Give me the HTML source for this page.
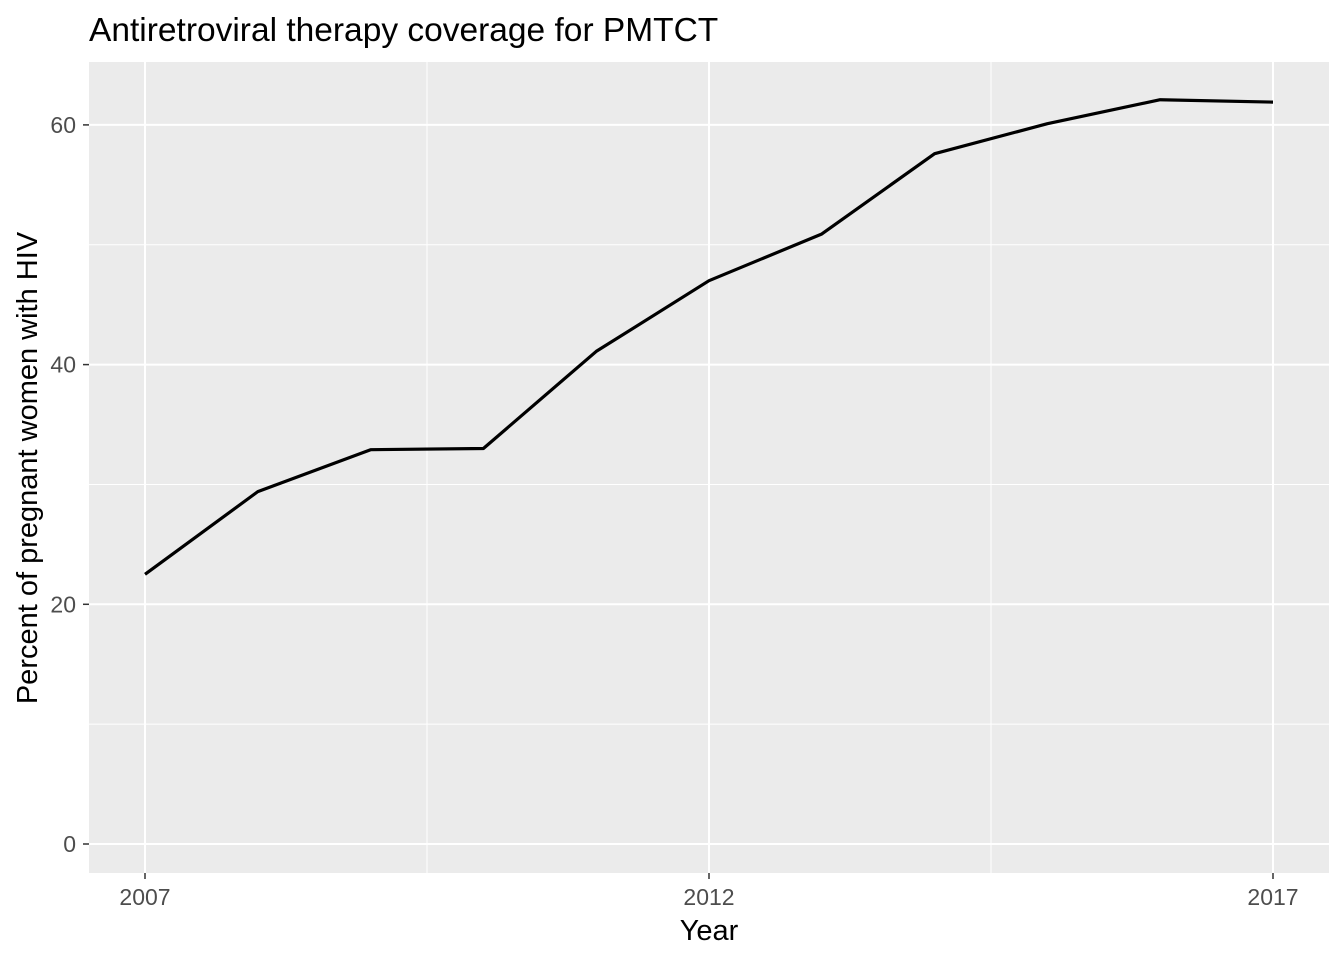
<!DOCTYPE html>
<html><head><meta charset="utf-8"><style>
html,body{margin:0;padding:0;background:#fff;}
svg{display:block;font-family:"Liberation Sans",Arial,sans-serif;}
</style></head><body>
<svg id="chart" width="1344" height="960" viewBox="0 0 1344 960">
<text x="89" y="41" font-size="33.5" fill="#000">Antiretroviral therapy coverage for PMTCT</text>
<rect x="89" y="62" width="1240" height="811" fill="#ebebeb"/>
<g id="grid"></g>
<g id="ticks"></g>
<path id="line" fill="none" stroke="#000" stroke-width="3.2" stroke-linejoin="round"/>
<text x="709" y="940" font-size="29" text-anchor="middle" fill="#000">Year</text>
<text transform="translate(37,468) rotate(-90)" font-size="29" text-anchor="middle" fill="#000">Percent of pregnant women with HIV</text>
</svg>
<script>
const years=[2007,2008,2009,2010,2011,2012,2013,2014,2015,2016,2017];
const coverage=[22.5,29.4,32.9,33.0,41.1,47.0,50.9,57.6,60.1,62.1,61.9];
const yTicks=[0,20,40,60];
const xTicks=[2007,2012,2017];
const ns="http://www.w3.org/2000/svg";
const X=v=>145+(v-2007)*112.8;
const Y=v=>844-v*11.985;
const grid=document.getElementById('grid'),ticks=document.getElementById('ticks');
function mk(tag,attrs,parent){const e=document.createElementNS(ns,tag);for(const k in attrs)e.setAttribute(k,attrs[k]);parent.appendChild(e);return e;}
for(const v of [10,30,50]){const l=mk('line',{x1:89,x2:1329,y1:Y(v),y2:Y(v),stroke:'#fff','stroke-width':1},grid);

}
for(const v of [2009.5,2014.5]){const l=mk('line',{y1:62,y2:873,x1:X(v),x2:X(v),stroke:'#fff','stroke-width':1},grid);

}
for(const v of yTicks){
const l=mk('line',{x1:89,x2:1329,y1:Y(v),y2:Y(v),stroke:'#fff','stroke-width':2},grid);


mk('line',{x1:83,x2:89,y1:Y(v),y2:Y(v),stroke:'#333','stroke-width':1.5},ticks);
const t=mk('text',{x:76,y:Y(v)+8,'font-size':23,'text-anchor':'end',fill:'#4d4d4d'},ticks);t.textContent=v;

}
for(const v of xTicks){
const l=mk('line',{y1:62,y2:873,x1:X(v),x2:X(v),stroke:'#fff','stroke-width':2},grid);


mk('line',{y1:873,y2:879,x1:X(v),x2:X(v),stroke:'#333','stroke-width':1.5},ticks);
const t=mk('text',{x:X(v),y:905,'font-size':23,'text-anchor':'middle',fill:'#4d4d4d'},ticks);t.textContent=v;

}
document.getElementById('line').setAttribute('d',years.map((y,i)=>(i?'L':'M')+X(y)+','+Y(coverage[i])).join(' '));
</script>
</body></html>
